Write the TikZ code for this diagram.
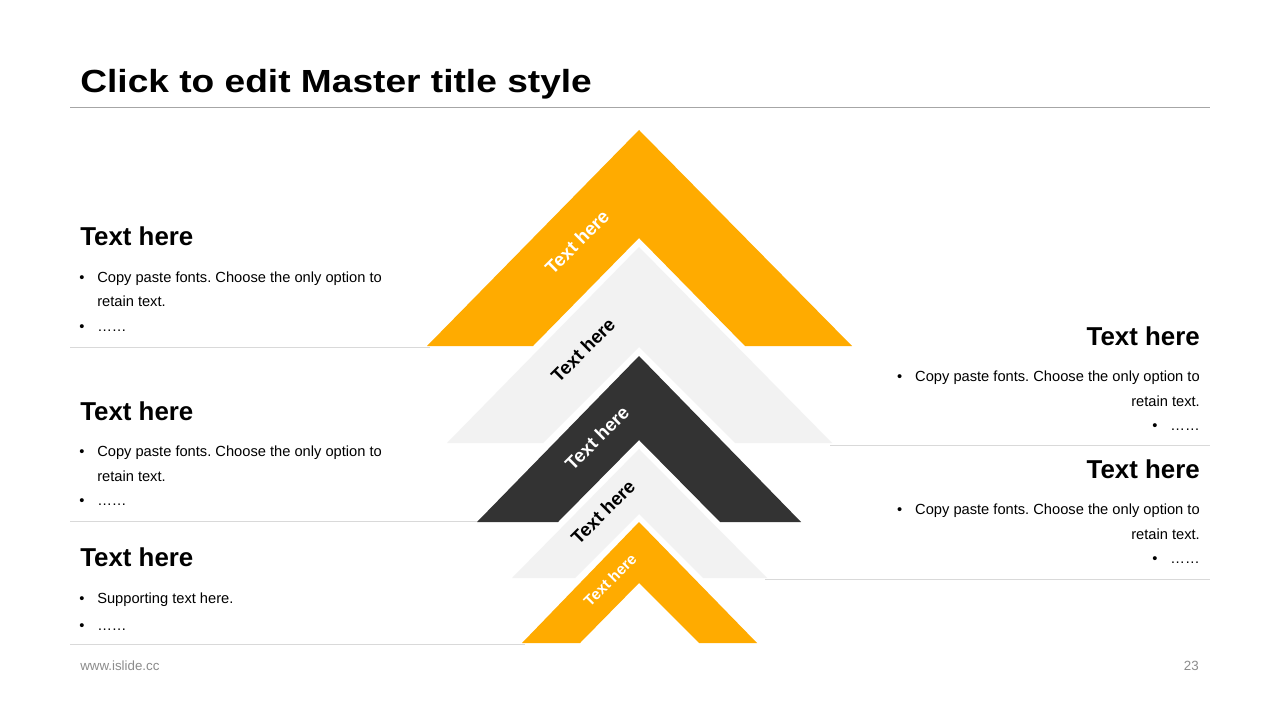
\documentclass[tikz,border=0pt]{standalone}
\usepackage{fontspec}
\setmainfont{Liberation Sans}
\usepackage{tikz}

\definecolor{amber}{HTML}{FFAB00}
\definecolor{pale}{HTML}{F2F2F2}
\definecolor{dark}{HTML}{333333}
\definecolor{rulegrey}{HTML}{D9D9D9}
\definecolor{titlegrey}{HTML}{A6A6A6}
\definecolor{foot}{HTML}{8C8C8C}

\newcommand\blt{\makebox[13.5pt][l]{•}}
\frenchspacing

\begin{document}
\begin{tikzpicture}[x=0.75pt,y=-0.75pt,
amberarm/.style={fill=amber},
palearm/.style={fill=pale},
darkarm/.style={fill=dark},
lbl/.style={rotate=45, inner sep=0, font=\bfseries\fontsize{14}{14}\selectfont},
head/.style={inner sep=0, font=\bfseries\fontsize{19.4}{20}\selectfont},
body/.style={inner sep=0, font=\fontsize{11}{12}\selectfont},
sep/.style={draw=rulegrey, line width=0.75pt},
]
\fill[white] (0,0) rectangle (1280,720);
\useasboundingbox (0,0) rectangle (1280,720);

% title
\node[inner sep=0, anchor=base west, xscale=1.16, font=\bfseries\fontsize{24}{28}\selectfont] (title) at (80,92.5) {Click to edit Master title style};
\draw[draw=titlegrey, line width=0.75pt] (70,108) -- (1210,108);

% separators
\draw[sep] (70,347) -- (430,347);
\draw[sep] (70,521) -- (480,521);
\draw[sep] (70,644) -- (525,644);
\draw[sep] (830,445) -- (1210,445);
\draw[sep] (765,579) -- (1210,579);

% chevrons
\fill[amberarm] (427,346) -- (639,130) -- (852,346) -- (745,346) -- (639,238) -- (533,346) -- cycle;
\fill[palearm] (447,443) -- (639,247) -- (832,443) -- (735,443) -- (639,347) -- (543,443) -- cycle;
\fill[darkarm] (477,522) -- (639,356) -- (801,522) -- (720,522) -- (639,440) -- (558,522) -- cycle;
\fill[palearm] (512,578) -- (639,449) -- (767,578) -- (703,578) -- (639,514) -- (575,578) -- cycle;
\fill[amberarm] (522,643) -- (639,522) -- (757,643) -- (699,643) -- (639,583) -- (580,643) -- cycle;

\node[lbl, text=white] (t1) at (577,242) {Text here};
\node[lbl] (t2) at (583,350) {Text here};
\node[lbl, text=white] (t3) at (597,438) {Text here};
\node[lbl] (t4) at (603,512) {Text here};
\node[lbl, text=white, font=\bfseries\fontsize{11.5}{12}\selectfont] (t5) at (610,580) {Text here};

% left column
\node[head, anchor=base west] (h1) at (80,246) {Text here};
\node[body, anchor=base west] (h1a) at (79,282) {\blt Copy paste fonts. Choose the only option to};
\node[body, anchor=base west] (h1b) at (97,306.5) {retain text.};
\node[body, anchor=base west] (h1c) at (79,331) {\blt ……};

\node[head, anchor=base west] (h2) at (80,420) {Text here};
\node[body, anchor=base west] (h2a) at (79,456.5) {\blt Copy paste fonts. Choose the only option to};
\node[body, anchor=base west] (h2b) at (97,481) {retain text.};
\node[body, anchor=base west] (h2c) at (79,505.5) {\blt ……};

\node[head, anchor=base west] (h3) at (80,566) {Text here};
\node[body, anchor=base west] (h3a) at (79,603.5) {\blt Supporting text here.};
\node[body, anchor=base west] (h3b) at (79,630) {\blt ……};

% right column
\node[head, anchor=base east] (h4) at (1200,345) {Text here};
\node[body, anchor=base east] (h4a) at (1200,381.5) {\blt Copy paste fonts. Choose the only option to};
\node[body, anchor=base east] (h4b) at (1200,406) {retain text.};
\node[body, anchor=base east] (h4c) at (1200,430.5) {\blt ……};

\node[head, anchor=base east] (h5) at (1200,478) {Text here};
\node[body, anchor=base east] (h5a) at (1200,514.5) {\blt Copy paste fonts. Choose the only option to};
\node[body, anchor=base east] (h5b) at (1200,539) {retain text.};
\node[body, anchor=base east] (h5c) at (1200,563.5) {\blt ……};

% footer
\node[inner sep=0, anchor=base west, text=foot, font=\fontsize{10}{12}\selectfont] (url) at (80,670) {www.islide.cc};
\node[inner sep=0, anchor=base east, text=foot, font=\fontsize{10}{12}\selectfont] (pg) at (1199,670) {23};
\end{tikzpicture}
\end{document}
